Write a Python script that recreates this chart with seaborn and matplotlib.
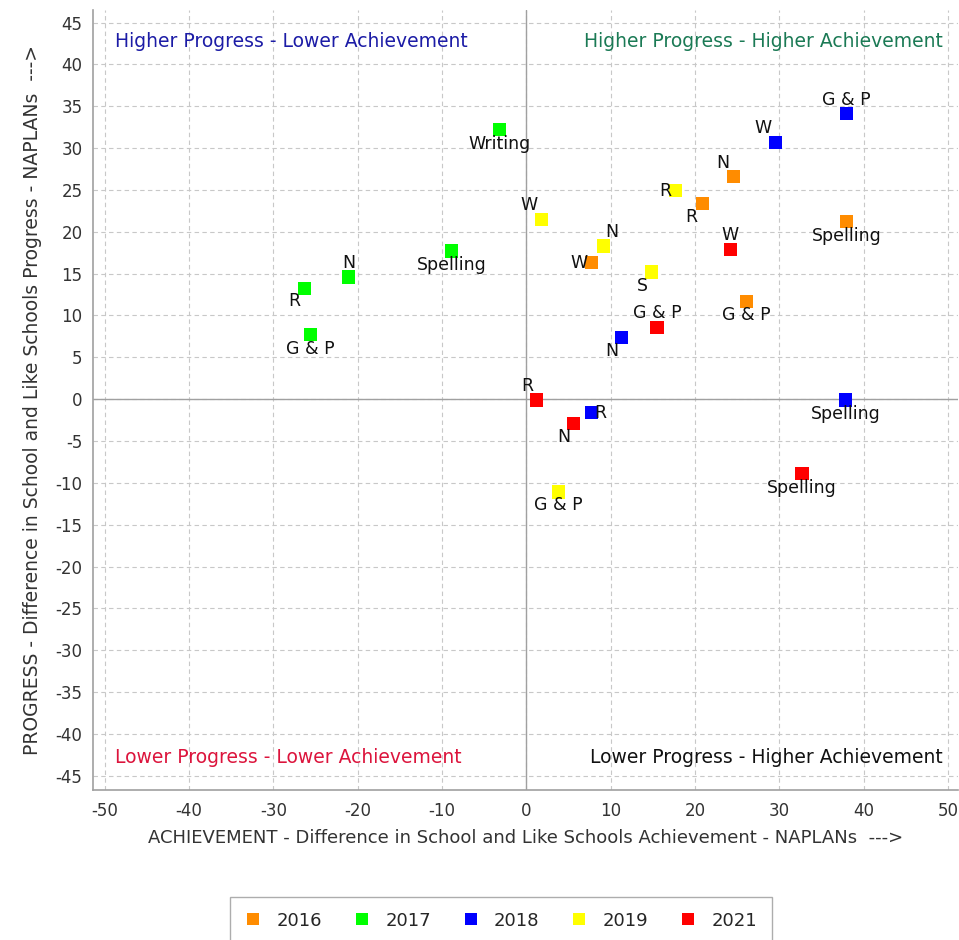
import pandas as pd
import numpy as np
import matplotlib
matplotlib.use('Agg')
import matplotlib.pyplot as plt
import seaborn as sns

# ---- data ----
years = ['2016', '2017', '2018', '2019', '2021']
colors = ['#FF8C00', '#00FF00', '#0000FF', '#FFFF00', '#FF0000']

year_2016_labels = ['N', 'R', 'Spelling', 'W', 'G & P']
year_2016_x = [24.6, 20.9, 38.0, 7.7, 26.1]
year_2016_y = [26.6, 23.4, 21.2, 16.3, 11.7]

year_2017_labels = ['Writing', 'Spelling', 'N', 'R', 'G & P']
year_2017_x = [-3.2, -8.9, -21.1, -26.3, -25.6]
year_2017_y = [32.2, 17.7, 14.6, 13.2, 7.7]

year_2018_labels = ['G & P', 'W', 'N', 'R', 'Spelling']
year_2018_x = [38.0, 29.6, 11.3, 7.7, 37.9]
year_2018_y = [34.1, 30.7, 7.4, -1.6, -0.1]

year_2019_labels = ['R', 'W', 'N', 'S', 'G & P']
year_2019_x = [17.7, 1.8, 9.2, 14.8, 3.8]
year_2019_y = [24.9, 21.5, 18.3, 15.2, -11.1]

year_2021_labels = ['W', 'G & P', 'R', 'N', 'Spelling']
year_2021_x = [24.2, 15.5, 1.2, 5.6, 32.7]
year_2021_y = [17.9, 8.6, -0.1, -2.9, -8.9]

# label offsets (points) so the text sits like in the reference
label_offsets = {
    ('2016', 'N'): (-3, 10), ('2016', 'R'): (-4, -10), ('2016', 'Spelling'): (0, -10),
    ('2016', 'W'): (-3, 0), ('2016', 'G & P'): (0, -10),
    ('2017', 'Writing'): (0, -10), ('2017', 'Spelling'): (0, -10), ('2017', 'N'): (0, 10),
    ('2017', 'R'): (-3, -9), ('2017', 'G & P'): (0, -10),
    ('2018', 'G & P'): (0, 10), ('2018', 'W'): (-3, 10), ('2018', 'N'): (-2, -10),
    ('2018', 'R'): (2, 0), ('2018', 'Spelling'): (0, -10),
    ('2019', 'R'): (-3, 0), ('2019', 'W'): (-3, 10), ('2019', 'N'): (1, 10),
    ('2019', 'S'): (-2, -10), ('2019', 'G & P'): (0, -9),
    ('2021', 'W'): (0, 10), ('2021', 'G & P'): (0, 10), ('2021', 'R'): (-2, 10),
    ('2021', 'N'): (-2, -10), ('2021', 'Spelling'): (0, -10),
}

frames = []
for yr, labs, xs, ys in [('2016', year_2016_labels, year_2016_x, year_2016_y),
                         ('2017', year_2017_labels, year_2017_x, year_2017_y),
                         ('2018', year_2018_labels, year_2018_x, year_2018_y),
                         ('2019', year_2019_labels, year_2019_x, year_2019_y),
                         ('2021', year_2021_labels, year_2021_x, year_2021_y)]:
    frames.append(pd.DataFrame({'year': yr, 'label': labs, 'achievement': xs, 'progress': ys}))
df = pd.concat(frames, ignore_index=True)

# ---- plot ----
sns.set_style('white')
plt.rcParams['font.family'] = ['DejaVu Sans']
plt.rcParams['axes.unicode_minus'] = False

fig = plt.figure(figsize=(9.59, 9.40), dpi=100)
ax = fig.add_axes([93 / 959, 1 - 790 / 940, (958 - 93) / 959, (790 - 10) / 940])

ax.set_xlim(-51.4, 51.2)
ax.set_ylim(-46.7, 46.5)
ax.set_xticks(np.arange(-50, 51, 10))
ax.set_yticks(np.arange(-45, 46, 5))
ax.grid(True, color='#c8c8c8', linestyle=(0, (4, 3)), linewidth=0.8)
ax.axhline(0, color='#a0a0a0', linewidth=1, zorder=1)
ax.axvline(0, color='#a0a0a0', linewidth=1, zorder=1)

sns.scatterplot(data=df, x='achievement', y='progress', hue='year',
                hue_order=years, palette=dict(zip(years, colors)),
                marker='s', s=90, linewidth=0, ax=ax, zorder=3, legend=False)

for _, row in df.iterrows():
    dx, dy = label_offsets[(row['year'], row['label'])]
    if dx < 0:
        ha = 'right'
    elif dx > 0:
        ha = 'left'
    else:
        ha = 'center'
    ax.annotate(row['label'], (row['achievement'], row['progress']),
                xytext=(dx, dy), textcoords='offset points',
                ha=ha, va='center', fontsize=12.5, color='#111111', zorder=4)

# quadrant captions
cap_fs = 13.5
ax.text(0.025, 0.96, 'Higher Progress - Lower Achievement', transform=ax.transAxes,
        color='#1c1ca6', fontsize=cap_fs, ha='left', va='center')
ax.text(0.982, 0.96, 'Higher Progress - Higher Achievement', transform=ax.transAxes,
        color='#1b7a55', fontsize=cap_fs, ha='right', va='center')
ax.text(0.025, 0.042, 'Lower Progress - Lower Achievement', transform=ax.transAxes,
        color='#dc143c', fontsize=cap_fs, ha='left', va='center')
ax.text(0.982, 0.042, 'Lower Progress - Higher Achievement', transform=ax.transAxes,
        color='#111111', fontsize=cap_fs, ha='right', va='center')

ax.set_xlabel('ACHIEVEMENT - Difference in School and Like Schools Achievement - NAPLANs  --->',
              fontsize=13, color='#333333', labelpad=6)
ax.set_ylabel('PROGRESS - Difference in School and Like Schools Progress - NAPLANs  --->',
              fontsize=13.5, color='#333333', labelpad=10)
ax.tick_params(axis='both', labelsize=12, colors='#333333', length=4, width=0.8,
               color='#a0a0a0', direction='out')
ax.tick_params(axis='x', pad=5)
sns.despine(ax=ax, top=True, right=True)
for sp in ['left', 'bottom']:
    ax.spines[sp].set_color('#a0a0a0')
    ax.spines[sp].set_linewidth(1.2)

handles = [plt.Line2D([], [], marker='s', linestyle='', markersize=8,
                      markerfacecolor=c, markeredgewidth=0) for c in colors]
fig.legend(handles, years, loc='lower center', bbox_to_anchor=(0.522, -0.014),
           ncol=5, frameon=True, fancybox=False, edgecolor='#999999',
           fontsize=13, handletextpad=0.8, columnspacing=1.7, borderpad=0.8,
           handlelength=1.0)

fig.savefig('out.png', dpi=100)
